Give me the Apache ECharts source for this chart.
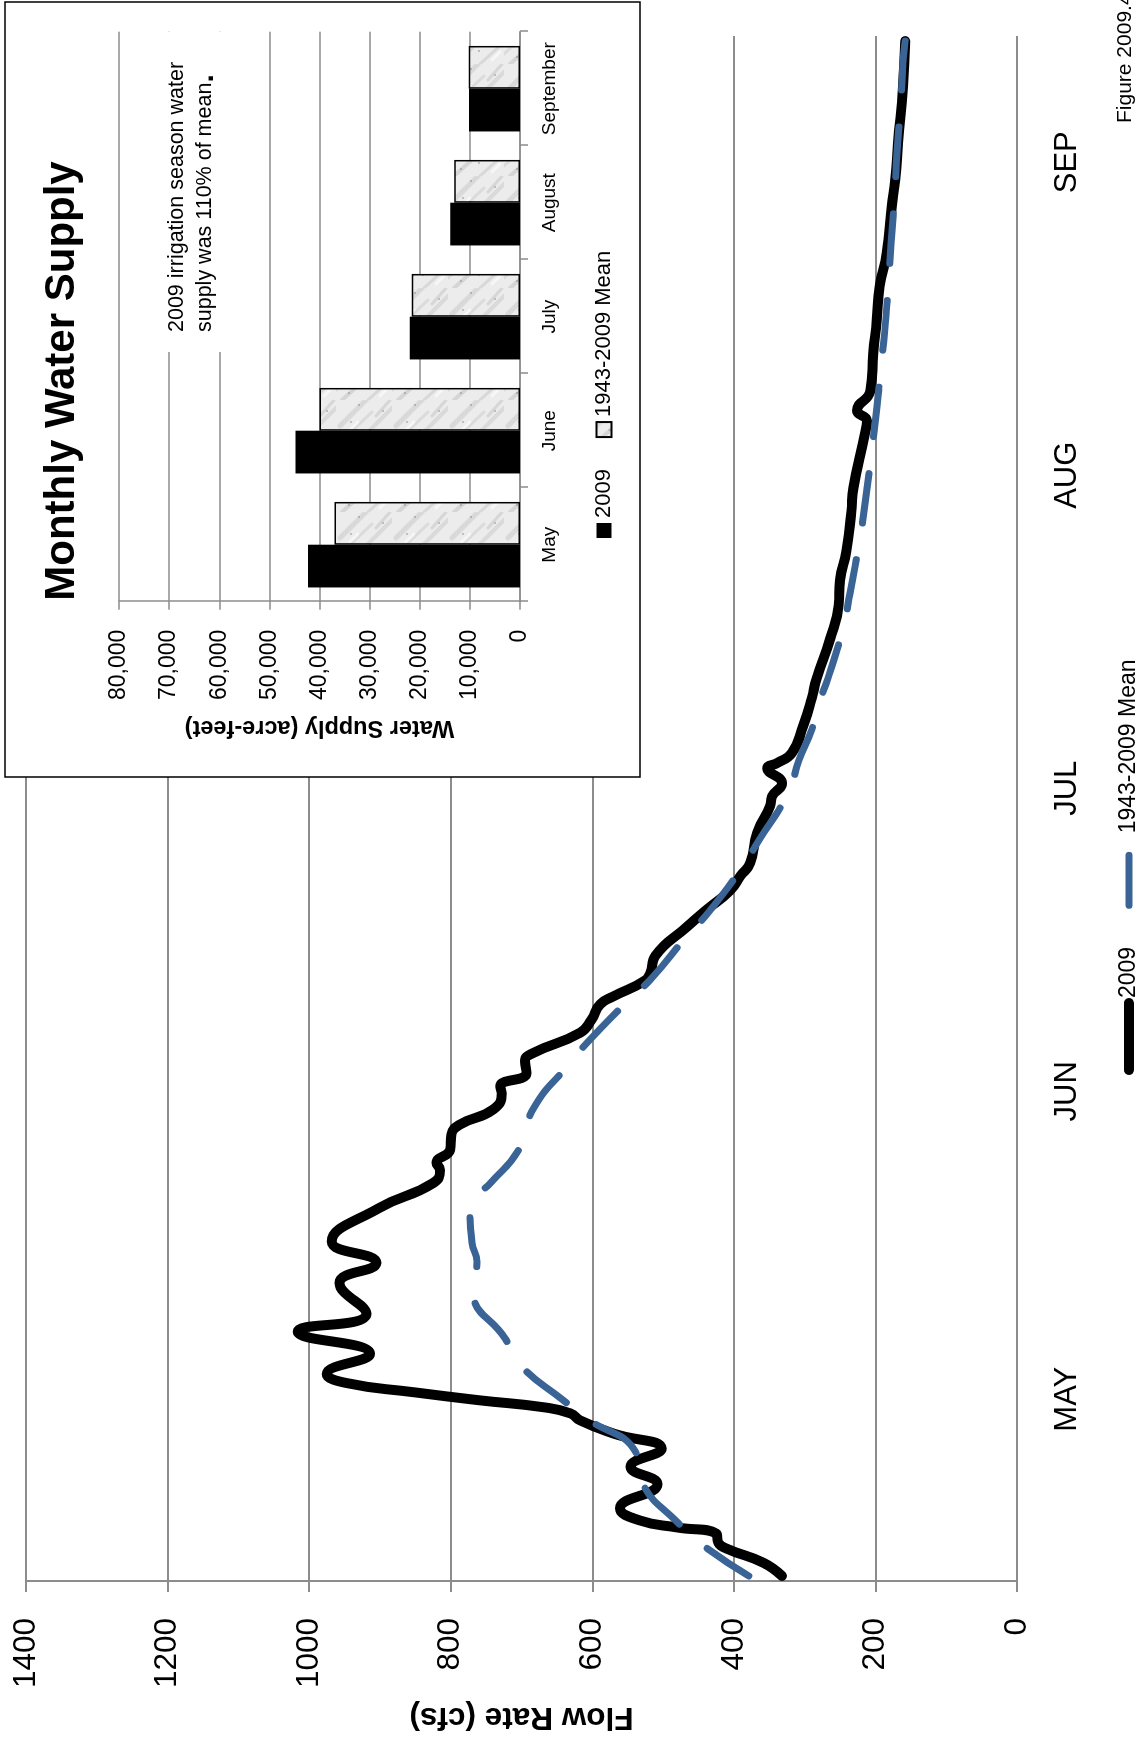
<!DOCTYPE html>
<html>
<head>
<meta charset="utf-8">
<title>Flow Rate and Monthly Water Supply, 2009</title>
<script src="https://cdn.jsdelivr.net/npm/echarts@6/dist/echarts.min.js"></script>
<style>
  html, body { margin: 0; padding: 0; overflow: hidden; background: #fff; }
  #page { position: relative; width: 1147px; height: 1744px; overflow: hidden; background: #fff; }
  /* the chart is laid out landscape and turned a quarter turn counter-clockwise */
  #chart { position: absolute; left: 0; top: 1744px; width: 1744px; height: 1147px;
           transform-origin: 0 0; transform: rotate(-90deg); }
</style>
</head>
<body>
<div id="page"><div id="chart"></div></div>
<script>
// Daily flow, irrigation season (day 0 = May 1), cfs
const flowDays2009 = [0, 1.3, 2.7, 3.3, 4.2, 4.8, 5.5, 6.7, 9.1, 10.8, 12.6, 14.1, 15.4, 16.1, 16.7, 17.4, 18.2, 19.1, 20.0,
  22.0, 24.2, 26.0, 29.0, 31.0, 33.1, 36.4, 38.9, 40.2, 40.9, 42.2, 43.7, 44.7, 46.2, 47.8, 48.5, 49.8, 51.0, 51.8,
  53.8, 55.1, 56.6, 57.4, 58.9, 59.7, 61.4, 64.3, 66.0, 67.9, 69.3, 70.6, 73.6, 76.2, 77.2, 78.5, 80.0, 80.5, 81.5,
  84.2, 86.9, 88.9, 92.8, 96.1, 98.6, 101.5, 105.4, 107.8, 113.1, 114.4, 115.4, 117.4, 121.1, 124.4, 127.7, 131.0,
  135.6, 138.3, 141.9, 147.5, 152.0];
const flow2009 = [332, 358, 410, 422, 425, 480, 533, 561, 508, 546, 502, 570, 617, 631, 668, 760, 853, 947, 975,
  914, 1016, 919, 957, 905, 968, 902, 825, 815, 820, 801, 799, 787, 740, 728, 730, 693, 695, 683,
  617, 601, 589, 570, 527, 518, 511, 466, 438, 405, 391, 377, 367, 349, 346, 332, 353, 339, 318,
  302, 290, 283, 264, 252, 250, 241, 234, 231, 215, 212, 226, 207, 203, 198, 194, 184,
  177, 172, 168, 161, 158];

const flowDaysMean = [0, 3.1, 5.2, 9.3, 12.3, 15.6, 17.4, 20.9, 23.5, 28.2, 31.1, 33.0, 36.7, 38.9, 42.2, 46.3, 50.6,
  52.9, 57.0, 59.2, 63.4, 65.7, 70.1, 72.8, 77.6, 80.8, 83.8, 85.9, 88.9, 94.1, 97.3, 102.7, 106.0, 111.6, 114.5,
  117.8, 120.0, 123.1, 128.7, 131.9, 137.5, 140.6, 146.0, 150.0, 152.0];
const flowMean = [379, 445, 478, 530, 539, 608, 641, 702, 723, 768, 763, 770, 773, 744, 704, 683, 634,
  606, 549, 516, 466, 436, 389, 365, 323, 308, 290, 283, 267, 245, 236, 222, 215, 205, 200,
  195, 192, 187, 181, 178, 172, 170, 164, 161, 158];

const monthLabels = ['MAY', 'JUN', 'JUL', 'AUG', 'SEP'];
const monthLabelDays = [17.5, 48, 78, 109, 140];

// Monthly water supply, acre-feet
const supplyMonths = ['May', 'June', 'July', 'August', 'September'];
const supply2009 = [42300, 44800, 22000, 13900, 10150];
const supplyMean = [37000, 40000, 21600, 13100, 10200];

const FONT = '"Liberation Sans", Arial, sans-serif';
const GRID_GREY = '#8c8c8c';
const MEAN_BLUE = '#3a6496';

// light grey mottled fill used for the long-term mean bars
function graniteTexture() {
  const c = document.createElement('canvas');
  c.width = 56; c.height = 56;
  const g = c.getContext('2d');
  g.fillStyle = '#ececec';
  g.fillRect(0, 0, 56, 56);
  g.lineCap = 'round';
  const streaks = [
    [0, 6, 18, 26, 'rgba(160,160,160,0.30)', 4],
    [10, 0, 44, 36, 'rgba(180,180,180,0.30)', 3],
    [30, 4, 56, 30, 'rgba(150,150,150,0.22)', 5],
    [0, 32, 22, 56, 'rgba(170,170,170,0.30)', 3],
    [22, 30, 48, 56, 'rgba(155,155,155,0.22)', 4],
    [40, 40, 56, 54, 'rgba(140,140,140,0.22)', 3],
    [4, 44, 12, 52, 'rgba(255,255,255,0.6)', 3],
    [26, 14, 34, 22, 'rgba(255,255,255,0.6)', 3]
  ];
  streaks.forEach(s => {
    g.strokeStyle = s[4]; g.lineWidth = s[5];
    g.beginPath(); g.moveTo(s[0], s[1]); g.lineTo(s[2], s[3]); g.stroke();
  });
  g.fillStyle = 'rgba(110,110,110,0.35)';
  [[12, 30], [33, 14], [44, 46], [6, 12], [50, 22]].forEach(p => { g.fillRect(p[0], p[1], 2, 2); });
  return c;
}
const texture = graniteTexture();

function pairs(xs, ys) { return xs.map((x, i) => [x, ys[i]]); }

const chart = echarts.init(document.getElementById('chart'), null, { renderer: 'canvas', width: 1744, height: 1147 });

const option = {
  animation: false,
  backgroundColor: '#fff',
  textStyle: { fontFamily: FONT, color: '#000' },
  grid: [
    { left: 163, top: 26, width: 1545, height: 991, outerBoundsMode: 'none', containLabel: false },
    { left: 1142.3, top: 119, width: 570, height: 401, outerBoundsMode: 'none', containLabel: false }
  ],
  xAxis: [
    {
      type: 'value', gridIndex: 0, min: -0.5, max: 152.5,
      splitLine: { show: false }, axisTick: { show: false }, axisLine: { show: false, onZero: false },
      axisLabel: {
        customValues: monthLabelDays,
        fontSize: 31, margin: 35, color: '#000', fontFamily: FONT,
        formatter: function (v) {
          let k = 0, best = Infinity;
          monthLabelDays.forEach((d, i) => { if (Math.abs(d - v) < best) { best = Math.abs(d - v); k = i; } });
          return monthLabels[k];
        }
      }
    },
    {
      type: 'category', gridIndex: 1, data: supplyMonths, z: 3,
      axisLine: { show: true, onZero: false, lineStyle: { color: GRID_GREY, width: 1.5 } },
      axisTick: { show: true, length: 8, lineStyle: { color: GRID_GREY, width: 1.5 } },
      axisLabel: { fontSize: 19, margin: 20, color: '#000', interval: 0, fontFamily: FONT }
    }
  ],
  yAxis: [
    {
      type: 'value', gridIndex: 0, min: 0, max: 1400, interval: 200,
      axisLine: { show: true, onZero: false, lineStyle: { color: GRID_GREY, width: 2 } },
      axisTick: { show: true, length: 11, lineStyle: { color: GRID_GREY, width: 2 } },
      splitLine: { show: true, lineStyle: { color: GRID_GREY, width: 2 } },
      axisLabel: { fontSize: 31.5, margin: 37, color: '#000', fontFamily: FONT,
        formatter: v => String(v) },
      name: 'Flow Rate (cfs)', nameLocation: 'middle', nameGap: 120, nameRotate: 90,
      nameTextStyle: { fontSize: 31.5, fontWeight: 'bold', color: '#000', fontFamily: FONT }
    },
    {
      type: 'value', gridIndex: 1, min: 0, max: 80000, interval: 10000, z: 3,
      axisLine: { show: true, onZero: false, lineStyle: { color: GRID_GREY, width: 1.5 } },
      axisTick: { show: true, length: 8, lineStyle: { color: GRID_GREY, width: 1.5 } },
      splitLine: { show: true, lineStyle: { color: GRID_GREY, width: 1.5 } },
      axisLabel: { fontSize: 23, margin: 28, color: '#000', fontFamily: FONT,
        formatter: v => v.toLocaleString('en-US') },
      name: 'Water Supply (acre-feet)', nameLocation: 'middle', nameGap: 114, nameRotate: 90,
      nameTextStyle: { fontSize: 23.5, fontWeight: 'bold', color: '#000', fontFamily: FONT }
    }
  ],
  legend: [
    {
      data: [
        { name: '2009', lineStyle: { width: 10, cap: 'round' }, itemStyle: { opacity: 0 } },
        { name: '1943-2009 Mean', lineStyle: { width: 7, cap: 'round' }, itemStyle: { opacity: 0 } }
      ],
      left: 669, top: 1117.5, padding: 0, orient: 'horizontal',
      itemWidth: 67, itemHeight: 14, itemGap: 38,
      itemStyle: { opacity: 0 },
      textStyle: { fontSize: 23, color: '#000', fontFamily: FONT },
      selectedMode: false
    },
    {
      data: [
        { name: '2009 ', icon: 'rect' },
        { name: '1943-2009 Mean ', icon: 'rect' }
      ],
      left: 1206, top: 593, padding: 0, orient: 'horizontal',
      itemWidth: 15, itemHeight: 15, itemGap: 31,
      formatter: name => name.trim(),
      textStyle: { fontSize: 22, color: '#000', fontFamily: FONT },
      selectedMode: false
    }
  ],
  series: [
    {
      name: '2009', type: 'line', xAxisIndex: 0, yAxisIndex: 0,
      data: pairs(flowDays2009, flow2009),
      smooth: true, symbol: 'none', z: 2, silent: true,
      lineStyle: { color: '#000', width: 10, cap: 'round', join: 'round' },
      itemStyle: { color: '#000' }
    },
    {
      name: '1943-2009 Mean', type: 'line', xAxisIndex: 0, yAxisIndex: 0,
      data: pairs(flowDaysMean, flowMean),
      smooth: true, symbol: 'none', z: 3, silent: true,
      lineStyle: { color: MEAN_BLUE, width: 7, type: [50, 37], cap: 'round', join: 'round' },
      itemStyle: { color: MEAN_BLUE }
    },
    {
      name: '2009 ', type: 'bar', xAxisIndex: 1, yAxisIndex: 1,
      data: supply2009, barGap: '0%', barCategoryGap: '25%', z: 4, silent: true,
      itemStyle: { color: '#000' }
    },
    {
      name: '1943-2009 Mean ', type: 'bar', xAxisIndex: 1, yAxisIndex: 1,
      data: supplyMean, barGap: '0%', barCategoryGap: '25%', z: 4, silent: true,
      itemStyle: { color: { image: texture, repeat: 'repeat' }, borderColor: '#000', borderWidth: 1.5 }
    }
  ],
  graphic: {
    elements: [
      { type: 'rect', z: 1, silent: true,
        shape: { x: 967, y: 5, width: 775, height: 635 },
        style: { fill: '#fff', stroke: '#000', lineWidth: 1.5 } },
      { type: 'rect', z: 5, silent: true,
        shape: { x: 1392, y: 128, width: 320, height: 130 },
        style: { fill: '#fff' } },
      { type: 'text', z: 6, x: 1363, y: 62, silent: true,
        style: { text: 'Monthly Water Supply', fontSize: 42, fontWeight: 'bold', fontFamily: FONT,
                 fill: '#000', align: 'center', verticalAlign: 'middle' } },
      { type: 'text', z: 6, x: 1412, y: 177, silent: true,
        style: { text: '2009 irrigation season water', fontSize: 21.5, fontFamily: FONT,
                 fill: '#000', align: 'left', verticalAlign: 'middle' } },
      { type: 'text', z: 6, x: 1412, y: 205, silent: true,
        style: { text: 'supply was 110% of mean{dot|.}', fontSize: 21.5, fontFamily: FONT,
                 fill: '#000', align: 'left', verticalAlign: 'middle',
                 rich: { dot: { fontSize: 30, fontWeight: 'bold', fontFamily: FONT, fill: '#000' } } } },
      { type: 'text', z: 6, x: 1621, y: 1125, silent: true,
        style: { text: 'Figure 2009.4', fontSize: 21, fontFamily: FONT,
                 fill: '#000', align: 'left', verticalAlign: 'middle' } }
    ]
  }
};

chart.setOption(option);
</script>
</body>
</html>
